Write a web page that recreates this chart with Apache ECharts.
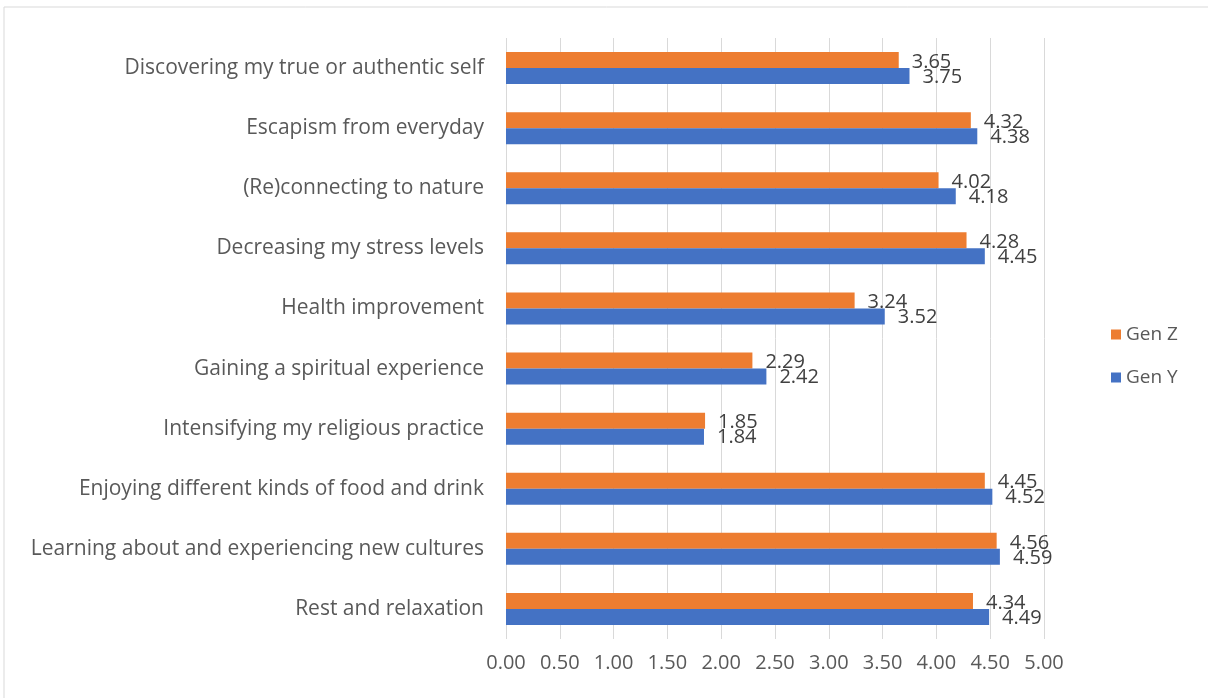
<!DOCTYPE html>
<html lang="en">
<head>
    <meta charset="UTF-8">
    <title>Travel motivations by generation</title>
</head>
<script src="https://cdn.jsdelivr.net/npm/echarts@6/dist/echarts.min.js"></script>
<body style="margin:0">
    <div id="echarts" style="height: 698px;width:1208px"></div>
</body>
<script>
    const categories = [
      'Discovering my true or authentic self',
      'Escapism from everyday',
      '(Re)connecting to nature',
      'Decreasing my stress levels',
      'Health improvement',
      'Gaining a spiritual experience',
      'Intensifying my religious practice',
      'Enjoying different kinds of food and drink',
      'Learning about and experiencing new cultures',
      'Rest and relaxation',
    ];
    const genZ = [3.65, 4.32, 4.02, 4.28, 3.24, 2.29, 1.85, 4.45, 4.56, 4.34];
    const genY = [3.75, 4.38, 4.18, 4.45, 3.52, 2.42, 1.84, 4.52, 4.59, 4.49];

    let myChart = echarts.init(document.getElementById('echarts'));
    const font = '"Open Sans", sans-serif';

    let option = {
      backgroundColor: '#fff',
      textStyle: { fontFamily: font },
      graphic: [{
        type: 'rect',
        shape: { x: 4, y: 7, width: 1210, height: 700 },
        style: { fill: 'none', stroke: '#d9d9d9', lineWidth: 1 },
        silent: true,
      }],
      grid: { left: 506, right: 164, top: 38, bottom: 59 },
      legend: {
        orient: 'vertical',
        left: 1106,
        top: 320,
        itemWidth: 10,
        itemHeight: 10,
        itemGap: 24,
        icon: 'rect',
        textStyle: { fontSize: 19, color: '#595959', fontFamily: font },
        data: ['Gen Z', 'Gen Y'],
      },
      xAxis: {
        type: 'value',
        min: 0,
        max: 5,
        interval: 0.5,
        axisLine: { show: false },
        axisTick: { show: false },
        splitLine: { lineStyle: { color: '#d9d9d9' } },
        axisLabel: {
          formatter: v => v.toFixed(2),
          fontSize: 20,
          color: '#595959',
          margin: 14,
        },
      },
      yAxis: {
        type: 'category',
        inverse: true,
        data: categories,
        axisLine: { show: false },
        axisTick: { show: false },
        axisLabel: { fontSize: 21, color: '#595959', margin: 22 },
      },
      series: [
        {
          name: 'Gen Z',
          type: 'bar',
          data: genZ,
          itemStyle: { color: '#ED7D31' },
          barWidth: 16,
          barGap: '0%',
          label: {
            show: true,
            position: 'right',
            distance: 13,
            offset: [0, 2],
            formatter: p => p.value.toFixed(2),
            fontSize: 20,
            color: '#404040',
          },
        },
        {
          name: 'Gen Y',
          type: 'bar',
          data: genY,
          itemStyle: { color: '#4472C4' },
          barWidth: 16,
          barGap: '0%',
          label: {
            show: true,
            position: 'right',
            distance: 13,
            offset: [0, 1],
            formatter: p => p.value.toFixed(2),
            fontSize: 20,
            color: '#404040',
          },
        },
      ],
    };
    myChart.setOption(option);
</script>
</html>
